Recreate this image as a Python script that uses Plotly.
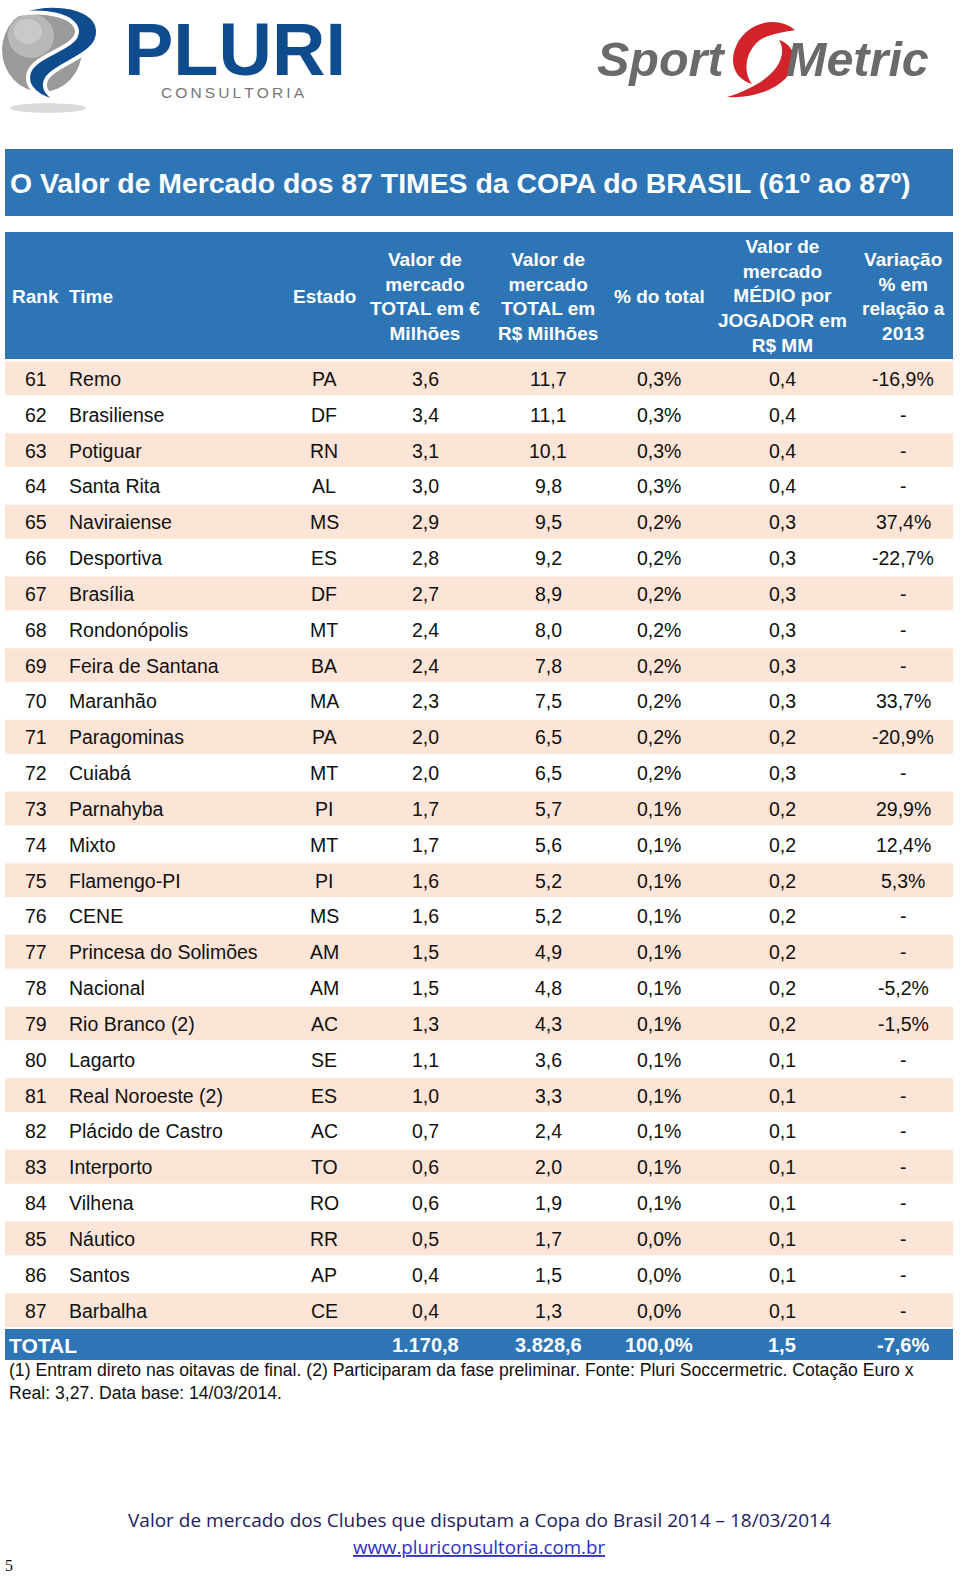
import plotly.graph_objects as go

ranks = list(range(61, 88))
times = ["Remo", "Brasiliense", "Potiguar", "Santa Rita", "Naviraiense", "Desportiva", "Brasília",
         "Rondonópolis", "Feira de Santana", "Maranhão", "Paragominas", "Cuiabá", "Parnahyba", "Mixto",
         "Flamengo-PI", "CENE", "Princesa do Solimões", "Nacional", "Rio Branco (2)", "Lagarto",
         "Real Noroeste (2)", "Plácido de Castro", "Interporto", "Vilhena", "Náutico", "Santos", "Barbalha"]
estados = ["PA", "DF", "RN", "AL", "MS", "ES", "DF", "MT", "BA", "MA", "PA", "MT", "PI", "MT", "PI", "MS",
           "AM", "AM", "AC", "SE", "ES", "AC", "TO", "RO", "RR", "AP", "CE"]
valor_eur = ["3,6", "3,4", "3,1", "3,0", "2,9", "2,8", "2,7", "2,4", "2,4", "2,3", "2,0", "2,0", "1,7", "1,7",
             "1,6", "1,6", "1,5", "1,5", "1,3", "1,1", "1,0", "0,7", "0,6", "0,6", "0,5", "0,4", "0,4"]
valor_brl = ["11,7", "11,1", "10,1", "9,8", "9,5", "9,2", "8,9", "8,0", "7,8", "7,5", "6,5", "6,5", "5,7", "5,6",
             "5,2", "5,2", "4,9", "4,8", "4,3", "3,6", "3,3", "2,4", "2,0", "1,9", "1,7", "1,5", "1,3"]
pct_total = ["0,3%", "0,3%", "0,3%", "0,3%", "0,2%", "0,2%", "0,2%", "0,2%", "0,2%", "0,2%", "0,2%", "0,2%",
             "0,1%", "0,1%", "0,1%", "0,1%", "0,1%", "0,1%", "0,1%", "0,1%", "0,1%", "0,1%", "0,1%", "0,1%",
             "0,0%", "0,0%", "0,0%"]
medio = ["0,4", "0,4", "0,4", "0,4", "0,3", "0,3", "0,3", "0,3", "0,3", "0,3", "0,2", "0,3", "0,2", "0,2",
         "0,2", "0,2", "0,2", "0,2", "0,2", "0,1", "0,1", "0,1", "0,1", "0,1", "0,1", "0,1", "0,1"]
variacao = ["-16,9%", "-", "-", "-", "37,4%", "-22,7%", "-", "-", "-", "33,7%", "-20,9%", "-", "29,9%", "12,4%",
            "5,3%", "-", "-", "-5,2%", "-1,5%", "-", "-", "-", "-", "-", "-", "-", "-"]
total_row = ["TOTAL", "1.170,8", "3.828,6", "100,0%", "1,5", "-7,6%"]

headers = ["Rank", "Time", "Estado", "Valor de<br>mercado<br>TOTAL em €<br>Milhões",
           "Valor de<br>mercado<br>TOTAL em<br>R$ Milhões", "% do total",
           "Valor de<br>mercado<br>MÉDIO por<br>JOGADOR em<br>R$ MM", "Variação<br>% em<br>relação a<br>2013"]

title = "O Valor de Mercado dos 87 TIMES da COPA do BRASIL (61º ao 87º)"
footnote = ("(1) Entram direto nas oitavas de final. (2) Participaram da fase preliminar. Fonte: Pluri Soccermetric. Cotação Euro x<br>"
            "Real: 3,27. Data base: 14/03/2014.")
footer1 = "Valor de mercado dos Clubes que disputam a Copa do Brasil 2014 – 18/03/2014"
footer2 = "www.pluriconsultoria.com.br"

BLUE = "#2E75B6"
PEACH = "#FCE4D6"
FONT = "Liberation Sans, Arial, sans-serif"

W, H = 960, 1577
fig = go.Figure()
fig.add_trace(go.Scatter(x=[0, W], y=[0, H], mode="markers", marker=dict(opacity=0), hoverinfo="skip", showlegend=False))

shapes = []
ann = []

# title bar
shapes.append(dict(type="rect", x0=5, x1=953, y0=149, y1=216, fillcolor=BLUE, line=dict(width=0), layer="below"))
ann.append(dict(x=8, y=183, text=title, xanchor="left", yanchor="middle", showarrow=False,
                font=dict(family=FONT, size=28.4, color="white", weight="bold")))

# header band
shapes.append(dict(type="rect", x0=5, x1=953, y0=232, y1=359, fillcolor=BLUE, line=dict(width=0), layer="below"))
col_x = [36, 66.5, 324, 425, 548, 659, 782, 903]
col_anchor = ["center", "left", "center", "center", "center", "center", "center", "center"]
hdr_x = [10, 66.5, 324, 425, 548, 659, 782, 903]
hdr_anchor = ["left", "left", "center", "center", "center", "center", "center", "center"]
for i, h in enumerate(headers):
    ann.append(dict(x=hdr_x[i], y=296, text=h, xanchor=hdr_anchor[i], yanchor="middle", showarrow=False,
                    align="center", font=dict(family=FONT, size=19, color="white", weight="bold")))

# body rows
top = 360.5
rh = (1328 - 360.5) / 27
for i in range(len(ranks)):
    y0 = top + i * rh
    fill = PEACH if i % 2 == 0 else "white"
    shapes.append(dict(type="rect", x0=5, x1=953, y0=y0 + 1, y1=y0 + rh - 1, fillcolor=fill,
                       line=dict(width=0), layer="below"))
    yc = y0 + rh / 2 + 0.5
    vals = [str(ranks[i]), times[i], estados[i], valor_eur[i], valor_brl[i], pct_total[i], medio[i], variacao[i]]
    for j, v in enumerate(vals):
        ann.append(dict(x=col_x[j], y=yc, text=v, xanchor=col_anchor[j], yanchor="middle", showarrow=False,
                        font=dict(family=FONT, size=19.5, color="#111111")))

# total row
shapes.append(dict(type="rect", x0=5, x1=953, y0=1329, y1=1360, fillcolor=BLUE, line=dict(width=0), layer="below"))
ann.append(dict(x=7, y=1345, text=total_row[0], xanchor="left", yanchor="middle", showarrow=False,
                font=dict(family=FONT, size=21, color="white", weight="bold")))
for j, v in enumerate(total_row[1:]):
    ann.append(dict(x=col_x[3 + j], y=1345, text=v, xanchor="center", yanchor="middle", showarrow=False,
                    font=dict(family=FONT, size=20, color="white", weight="bold")))

# footnote
ann.append(dict(x=7, y=1381, text=footnote, xanchor="left", yanchor="middle", showarrow=False, align="left",
                font=dict(family=FONT, size=17.6, color="#111111")))

# footer
ann.append(dict(x=479, y=1520, text=footer1, xanchor="center", yanchor="middle", showarrow=False,
                font=dict(family="Open Sans, sans-serif", size=19, color="#1F2060")))
ann.append(dict(x=479, y=1546, text="<u>" + footer2 + "</u>", xanchor="center", yanchor="middle", showarrow=False,
                font=dict(family="Open Sans, sans-serif", size=18.7, color="#3030C8")))
ann.append(dict(x=3, y=1565, text="5", xanchor="left", yanchor="middle", showarrow=False,
                font=dict(family="Liberation Serif, serif", size=16, color="#111111")))

# PLURI logo
shapes.append(dict(type="circle", x0=10, x1=86, y0=103, y1=113, fillcolor="#DADADA", line=dict(width=0)))
shapes.append(dict(type="circle", x0=2, x1=82, y0=8, y1=92, fillcolor="#9A9A9A", line=dict(width=0)))
shapes.append(dict(type="circle", x0=8, x1=54, y0=14, y1=58, fillcolor="#B8B8B8", line=dict(width=0)))
shapes.append(dict(type="circle", x0=14, x1=42, y0=19, y1=44, fillcolor="#C9C9C9", line=dict(width=0)))
shapes.append(dict(type="path",
                   path="M 10,16 C 40,-1 96,3 98,30 C 100,56 58,62 47,78 C 41,88 48,96 62,102 "
                        "C 38,100 24,86 29,72 C 36,54 78,48 77,31 C 75,15 42,8 10,16 Z",
                   fillcolor="#0E4C8E", line=dict(color="white", width=4)))
ann.append(dict(x=235, y=49, text="PLURI", xanchor="center", yanchor="middle", showarrow=False,
                height=62, valign="middle",
                font=dict(family=FONT, size=74, color="#0E4C8E", weight="bold")))
ann.append(dict(x=233, y=92, text="\u2009".join("CONSULTORIA"), xanchor="center", yanchor="middle", showarrow=False,
                font=dict(family=FONT, size=15.5, color="#777777")))

# SportMetric logo
ann.append(dict(x=727, y=59, text="<i>Sport</i>", xanchor="right", yanchor="middle", showarrow=False,
                font=dict(family=FONT, size=48.5, color="#6A6A6A", weight="bold")))
ann.append(dict(x=784, y=59, text="<i>Metric</i>", xanchor="left", yanchor="middle", showarrow=False,
                font=dict(family=FONT, size=48.5, color="#6A6A6A", weight="bold")))
shapes.append(dict(type="path",
                   path="M 795,30 C 777,14 742,22 734,52 C 730,68 738,80 752,84 C 742,72 746,50 760,40 C 771,33 786,32 795,30 Z",
                   fillcolor="#D2232A", line=dict(width=0)))
shapes.append(dict(type="path",
                   path="M 727,97 C 762,100 797,80 794,57 C 793,48 786,42 779,40 C 789,56 776,82 727,97 Z",
                   fillcolor="#D2232A", line=dict(width=0)))

fig.update_layout(width=W, height=H, margin=dict(l=0, r=0, t=0, b=0), paper_bgcolor="white", plot_bgcolor="white",
                  xaxis=dict(range=[0, W], visible=False, fixedrange=True),
                  yaxis=dict(range=[H, 0], visible=False, fixedrange=True),
                  shapes=shapes, annotations=ann, showlegend=False)
fig.write_html("out.html", config={"displayModeBar": False},
               post_script="document.body.style.margin='0';document.body.style.overflow='hidden';")
